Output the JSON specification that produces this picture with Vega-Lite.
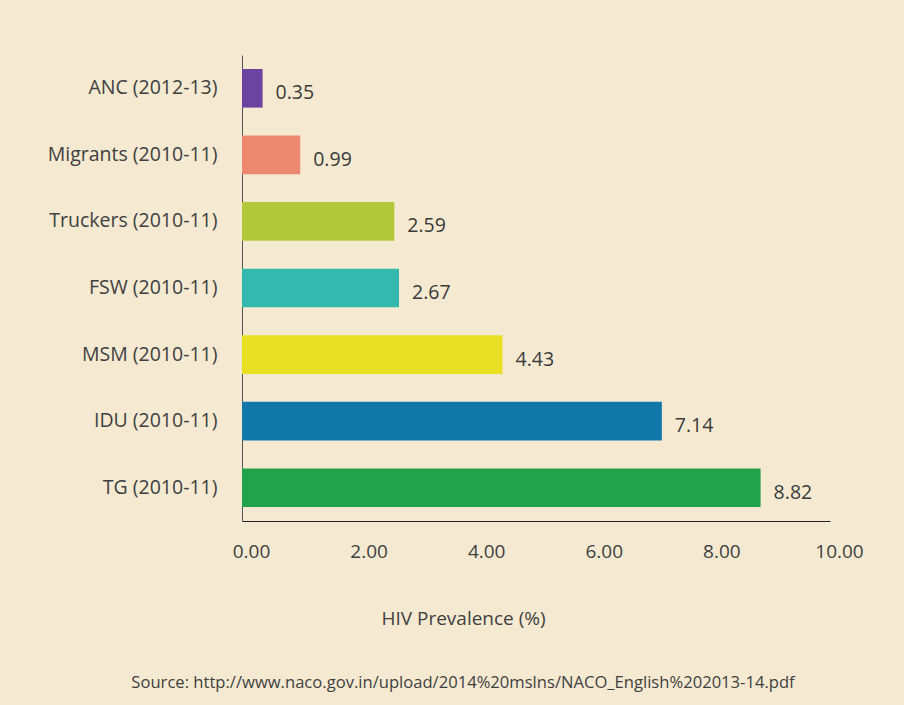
{
  "$schema": "https://vega.github.io/schema/vega-lite/v6.json",
  "width": 588,
  "height": 466,
  "autosize": {"type": "none"},
  "padding": {"left": 242, "top": 55, "right": 74, "bottom": 184},
  "background": "#f5ead1",
  "config": {
    "view": {"stroke": null},
    "font": "Open Sans"
  },
  "title": {
    "text": "Source: http://www.naco.gov.in/upload/2014%20mslns/NACO_English%202013-14.pdf",
    "orient": "bottom",
    "anchor": "middle",
    "dx": -73,
    "offset": 47,
    "fontSize": 16.6,
    "fontWeight": "normal",
    "color": "#404040",
    "font": "Open Sans"
  },
  "data": {
    "values": [
      {"group": "ANC (2012-13)", "value": 0.35},
      {"group": "Migrants (2010-11)", "value": 0.99},
      {"group": "Truckers (2010-11)", "value": 2.59},
      {"group": "FSW (2010-11)", "value": 2.67},
      {"group": "MSM (2010-11)", "value": 4.43},
      {"group": "IDU (2010-11)", "value": 7.14},
      {"group": "TG (2010-11)", "value": 8.82}
    ]
  },
  "encoding": {
    "y": {
      "field": "group",
      "type": "nominal",
      "sort": null,
      "scale": {"paddingInner": 0.42, "paddingOuter": 0.21},
      "axis": {
        "title": null,
        "ticks": false,
        "labelPadding": 25,
        "labelFontSize": 19.5,
        "labelColor": "#404040",
        "labelFont": "Open Sans",
        "domainColor": "#555555",
        "labelDy": 3
      }
    }
  },
  "layer": [
    {
      "mark": {"type": "bar"},
      "encoding": {
        "x": {
          "field": "value",
          "type": "quantitative",
          "scale": {"domain": [0, 10], "nice": false},
          "axis": {
            "values": [0, 2, 4, 6, 8, 10],
            "format": ".2f",
            "grid": false,
            "ticks": false,
            "domainColor": "#222222",
            "labelFontSize": 19,
            "labelColor": "#404040",
            "labelFont": "Open Sans",
            "labelPadding": 21,
            "labelOffset": 9,
            "labelFlush": false,
            "title": "HIV Prevalence (%)",
            "titleFontSize": 19,
            "titleFontWeight": "normal",
            "titleColor": "#404040",
            "titleFont": "Open Sans",
            "titleX": 221,
            "titleY": 103,
            "titleAlign": "center",
            "titleBaseline": "alphabetic"
          }
        },
        "color": {
          "field": "group",
          "type": "nominal",
          "legend": null,
          "scale": {
            "domain": ["ANC (2012-13)", "Migrants (2010-11)", "Truckers (2010-11)", "FSW (2010-11)", "MSM (2010-11)", "IDU (2010-11)", "TG (2010-11)"],
            "range": ["#6a44a0", "#ec8770", "#b1c83a", "#33b9ad", "#e9df23", "#1277a9", "#23a24c"]
          }
        }
      }
    },
    {
      "mark": {"type": "text", "align": "left", "baseline": "middle", "dx": 13, "dy": 5, "fontSize": 19.5, "color": "#3a3a3a", "font": "Open Sans"},
      "encoding": {
        "x": {"field": "value", "type": "quantitative"},
        "text": {"field": "value", "type": "quantitative", "format": ".2f"}
      }
    }
  ]
}
